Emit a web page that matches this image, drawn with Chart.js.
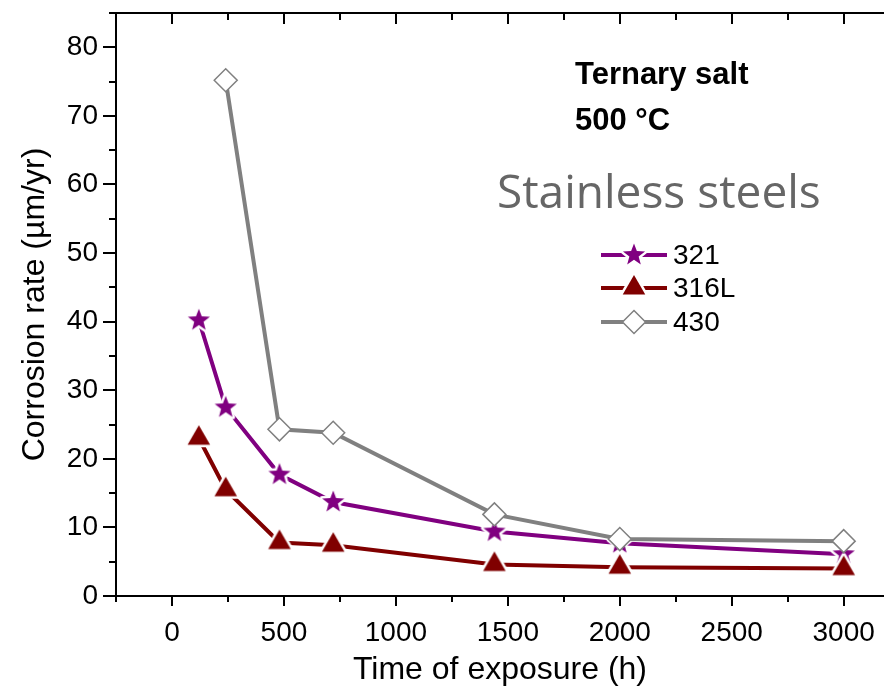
<!DOCTYPE html>
<html>
<head>
<meta charset="utf-8">
<script src="https://cdn.jsdelivr.net/npm/chart.js@4.4.0/dist/chart.umd.min.js"></script>
<style>
  html, body { margin: 0; padding: 0; background: #fff; }
  #wrap { width: 884px; height: 692px; }
</style>
</head>
<body>
<div id="wrap"><canvas id="myChart" width="884" height="692"></canvas></div>
<script>
// Data
  const hours321 = [120, 240, 480, 720, 1440, 2000, 3000];
  const rate321 = [40.2, 27.5, 17.7, 13.7, 9.4, 7.7, 6.1];

  const hours316L = [120, 240, 480, 720, 1440, 2000, 3000];
  const rate316L = [23.0, 15.5, 7.8, 7.4, 4.6, 4.2, 4.0];

  const hours430 = [240, 480, 720, 1440, 2000, 3000];
  const rate430 = [75.2, 24.3, 23.8, 11.9, 8.3, 8.0];

  const seriesNames = ['321', '316L', '430'];
  const xTicks = [0, 500, 1000, 1500, 2000, 2500, 3000];
  const yTicks = [0, 10, 20, 30, 40, 50, 60, 70, 80];

  const PURPLE = '#800080';
  const DARKRED = '#800000';
  const GREY = '#808080';
  const FONT = "'Liberation Sans', Arial, sans-serif";

  function toXY(xs, ys) {
    return xs.map((x, i) => ({ x: x, y: ys[i] }));
  }

// Markers
  function makeStar(color, R) {
    const s = Math.ceil(R * 2 + 8);
    const c = document.createElement('canvas');
    c.width = s; c.height = s;
    const g = c.getContext('2d');
    g.beginPath();
    for (let i = 0; i < 10; i++) {
      const r = i % 2 ? R * 0.42 : R;
      const a = -Math.PI / 2 + i * Math.PI / 5;
      g.lineTo(s / 2 + r * Math.cos(a), s / 2 + r * Math.sin(a));
    }
    g.closePath();
    g.lineJoin = 'round';
    g.strokeStyle = '#fff';
    g.lineWidth = 5;
    g.stroke();
    g.fillStyle = color;
    g.fill();
    return c;
  }

  function makeTriangle(color, r) {
    const s = Math.ceil(r * 2 + 8);
    const c = document.createElement('canvas');
    c.width = s; c.height = s;
    const g = c.getContext('2d');
    const h = r * Math.sin(Math.PI / 3);
    g.beginPath();
    g.moveTo(s / 2, s / 2 - r);
    g.lineTo(s / 2 + h, s / 2 + r / 2);
    g.lineTo(s / 2 - h, s / 2 + r / 2);
    g.closePath();
    g.lineJoin = 'round';
    g.strokeStyle = '#fff';
    g.lineWidth = 5;
    g.stroke();
    g.fillStyle = color;
    g.fill();
    return c;
  }

  const starImg = makeStar(PURPLE, 11.6);
  const triImg = makeTriangle(DARKRED, 13);

// Frame, minor ticks, notes and legend
  const decorations = {
    id: 'decorations',
    afterDraw(chart) {
      const ctx = chart.ctx;
      const area = chart.chartArea;
      const xs = chart.scales.x;
      const ys = chart.scales.y;
      ctx.save();
      ctx.strokeStyle = '#000';
      ctx.lineWidth = 2;

      // top frame line
      ctx.beginPath();
      ctx.moveTo(area.left - 1, area.top);
      ctx.lineTo(area.right, area.top);
      ctx.stroke();

      const xMinor = [xTicks[0] - (xTicks[1] - xTicks[0]) / 2];
      for (let i = 0; i < xTicks.length - 1; i++) xMinor.push((xTicks[i] + xTicks[i + 1]) / 2);
      const yMinor = [];
      for (let i = 0; i < yTicks.length - 1; i++) yMinor.push((yTicks[i] + yTicks[i + 1]) / 2);
      yMinor.push(yTicks[yTicks.length - 1] + (yTicks[1] - yTicks[0]) / 2);

      ctx.beginPath();
      xTicks.forEach(v => {
        const p = Math.round(xs.getPixelForValue(v));
        ctx.moveTo(p, area.bottom); ctx.lineTo(p, area.bottom + 10);
        ctx.moveTo(p, area.top); ctx.lineTo(p, area.top + 11);
      });
      xMinor.forEach(v => {
        const p = Math.round(xs.getPixelForValue(v));
        ctx.moveTo(p, area.bottom); ctx.lineTo(p, area.bottom + 6);
        ctx.moveTo(p, area.top); ctx.lineTo(p, area.top + 7);
      });
      yTicks.forEach(v => {
        const p = Math.round(ys.getPixelForValue(v));
        ctx.moveTo(area.left, p); ctx.lineTo(area.left - 13, p);
      });
      yMinor.forEach(v => {
        const p = Math.round(ys.getPixelForValue(v));
        ctx.moveTo(area.left, p); ctx.lineTo(area.left - 7, p);
      });
      ctx.stroke();

      // notes
      ctx.fillStyle = '#000';
      ctx.textBaseline = 'alphabetic';
      ctx.textAlign = 'left';
      ctx.font = 'bold 31px ' + FONT;
      ctx.fillText('Ternary salt', 575, 84);
      ctx.fillText('500 °C', 575, 130);

      ctx.fillStyle = '#666666';
      ctx.font = "46px 'Open Sans', sans-serif";
      ctx.fillText('Stainless steels', 497, 208);

      // legend
      const rows = [255, 288, 322];
      const colors = [PURPLE, DARKRED, GREY];
      rows.forEach((y, i) => {
        ctx.strokeStyle = colors[i];
        ctx.lineWidth = 4;
        ctx.beginPath();
        ctx.moveTo(601, y); ctx.lineTo(667, y);
        ctx.stroke();
        if (i === 0) ctx.drawImage(starImg, 634 - starImg.width / 2, y - starImg.height / 2);
        if (i === 1) ctx.drawImage(triImg, 634 - triImg.width / 2, y - triImg.height / 2);
        if (i === 2) {
          const r = 11.5;
          ctx.beginPath();
          ctx.moveTo(634, y - r); ctx.lineTo(634 + r, y);
          ctx.lineTo(634, y + r); ctx.lineTo(634 - r, y);
          ctx.closePath();
          ctx.fillStyle = '#fff';
          ctx.fill();
          ctx.lineWidth = 1.5;
          ctx.strokeStyle = GREY;
          ctx.stroke();
        }
        ctx.fillStyle = '#000';
        ctx.font = '28px ' + FONT;
        ctx.textBaseline = 'middle';
        ctx.fillText(seriesNames[i], 673, y + 1);
      });
      ctx.restore();
    }
  };

  const data = {
    datasets: [{
      label: seriesNames[0],
      data: toXY(hours321, rate321),
      borderColor: PURPLE,
      borderWidth: 4,
      pointStyle: starImg,
      order: 3,
    }, {
      label: seriesNames[1],
      data: toXY(hours316L, rate316L),
      borderColor: DARKRED,
      borderWidth: 4,
      pointStyle: triImg,
      order: 2,
    }, {
      label: seriesNames[2],
      data: toXY(hours430, rate430),
      borderColor: GREY,
      borderWidth: 4,
      pointStyle: 'rectRot',
      pointRadius: 11.5,
      pointBackgroundColor: '#fff',
      pointBorderColor: GREY,
      pointBorderWidth: 1.5,
      order: 1,
    }]
  };

  const config = {
    type: 'line',
    data: data,
    plugins: [decorations],
    options: {
      responsive: false,
      animation: false,
      devicePixelRatio: 1,
      layout: { autoPadding: false, padding: { top: 13, right: 0, left: 0, bottom: 0 } },
      plugins: {
        legend: { display: false },
        tooltip: { enabled: false },
      },
      scales: {
        x: {
          type: 'linear',
          min: -250,
          max: 3180,
          afterBuildTicks: (scale) => { scale.ticks = xTicks.map(v => ({ value: v })); },
          afterFit: (scale) => {
            scale.height = 96;
            scale.paddingLeft = 0; scale.paddingRight = 0;
          },
          grid: { display: true, drawOnChartArea: false, drawTicks: true, tickLength: 10, tickColor: 'rgba(0,0,0,0)' },
          border: { display: true, color: '#000', width: 2 },
          ticks: { color: '#000', padding: 10, maxRotation: 0, callback: (v) => String(v), font: { family: FONT, size: 28 } },
          title: { display: true, text: 'Time of exposure (h)', color: '#000', padding: { top: 0, bottom: 3 }, font: { family: FONT, size: 32 } },
        },
        y: {
          type: 'linear',
          min: 0,
          max: 85,
          afterBuildTicks: (scale) => { scale.ticks = yTicks.map(v => ({ value: v })); },
          afterFit: (scale) => {
            scale.width = 116;
            scale.paddingTop = 0; scale.paddingBottom = 0;
          },
          grid: { display: true, drawOnChartArea: false, drawTicks: true, tickLength: 13, tickColor: 'rgba(0,0,0,0)' },
          border: { display: true, color: '#000', width: 2 },
          ticks: { color: '#000', padding: 5, callback: (v) => String(v), font: { family: FONT, size: 28 } },
          title: { display: true, text: 'Corrosion rate (µm/yr)', color: '#000', padding: { top: 16, bottom: 0 }, font: { family: FONT, size: 32 } },
        }
      }
    }
  };

  const myChart = new Chart(document.getElementById('myChart'), config);
</script>
</body>
</html>
